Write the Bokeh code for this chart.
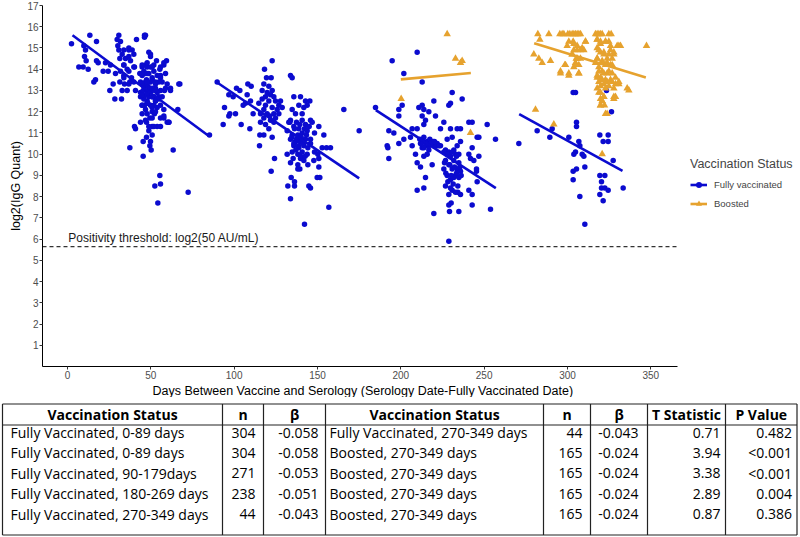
import math
from bokeh.plotting import figure
from bokeh.models import (ColumnDataSource, Legend, LegendItem, Range1d,
                          FixedTicker, Title)
from bokeh.layouts import column
from bokeh.embed import file_html
from bokeh.resources import INLINE
from bokeh.core.properties import value

# ---------------- data ----------------
# Fully vaccinated, 0-89 days: (days, log2 IgG)
fv1 = [(2.4,15.2),(13.4,15.6),(17.4,15.3),(9.8,15.1),(10.8,14.9),(10.2,14.6),(11.2,14.4),(6.8,14.1),(9.4,14.1),(12.4,14.0),
       (17.4,14.4),(18.4,14.3),(21.4,13.9),(22.8,14.3),(25.8,14.2),(24.4,13.9),(16.8,13.5),(15.8,13.4),(25.4,13.0),(28.4,12.6),
       (32.4,12.6),(27.4,13.3),(30.8,15.6),(29.8,15.4),(31.8,15.3),(30.2,15.1),(41.4,15.4),(46.2,15.6),(46.2,15.5),(48.8,14.8),
       (49.8,14.6),(36.8,14.9),(38.8,14.9),(30.8,14.9),(32.8,14.7),(34.8,14.5),(31.4,14.5),(33.8,14.2),(37.8,14.4),(40.2,14.1),
       (35.8,14.0),(31.8,13.9),(28.8,13.8),(33.8,13.7),(38.4,13.6),(37.4,13.4),(34.2,13.3),(31.4,13.4),(35.8,13.0),(32.8,13.0),
       (40.8,13.0),(43.8,12.9),(45.4,12.7),(47.8,12.5),(44.8,12.3),(49.8,12.3),(46.8,12.1),(50.8,12.0),(49.4,11.7),(47.4,11.5),
       (43.8,11.5),(40.2,11.3),(50.8,11.3),(53.8,11.3),(55.8,11.3),(55.8,11.7),(57.8,11.7),(59.8,11.5),(60.8,11.5),(46.8,14.2),
       (47.8,14.1),(45.8,13.9),(48.8,13.8),(44.8,13.7),(47.4,13.5),(49.8,13.4),(45.8,13.2),(48.2,13.0),(50.8,13.0),(52.8,13.1),
       (53.8,12.9),(51.8,12.7),(48.8,12.7),(45.8,12.6),(52.8,12.5),(54.8,12.6),(55.8,12.3),(53.8,12.2),(51.8,12.3),(43.8,13.4),
       (43.4,13.8),(51.8,14.2),(53.4,14.4),(55.4,14.0),(57.8,14.2),(59.4,14.4),(58.8,13.8),(55.8,13.7),(56.8,13.4),(59.8,13.3),
       (61.8,13.0),(58.2,13.0),(54.8,13.4),(67.4,13.3),(66.2,12.1),(57.8,12.1),(52.2,11.9),(48.8,11.3),(47.4,10.8),(49.8,10.6),
       (49.4,10.4),(50.8,10.9),(45.4,10.6),(37.4,10.3),(45.4,9.9),(50.2,10.2),(63.4,10.2),(55.4,9.0),(55.8,8.6),(52.4,8.5),
       (72.4,8.2),(54.2,7.7),(85.2,10.9),(46.8,13.4),(48.2,13.2),(45.4,13.0),(49.4,13.1),(47.4,12.8),(50.8,12.7),(48.2,12.4),
       (46.2,12.3),(52.8,12.0),(54.8,12.7),(49.8,14.1),(44.8,14.1),(51.8,13.9),(53.8,13.7),(50.8,13.5),(46.8,13.8),(48.8,12.9),
       (43.8,12.7),(55.8,13.0),(56.8,12.7),(52.8,13.3),
       (44.8,14.2),(44.8,13.8),(44.8,13.3),(44.8,12.8),(44.8,12.3),(44.8,11.9),(47.8,14.3),(47.8,13.8),(47.8,13.4),(47.8,12.9),
       (47.8,12.4),(47.8,11.9),(50.8,14.1),(50.8,13.6),(50.8,13.1),(50.8,12.7),(50.8,12.2),(50.8,11.7),(52.8,13.4),(52.8,13.0),
       (52.8,12.5),(33.8,14.9),(33.8,14.2),(33.8,13.6),(36.8,15.0),(36.8,14.6),(36.8,13.9),(36.8,13.3),(39.8,14.7),(39.8,14.1),
       (39.8,13.4),(57.8,14.3),(58.8,13.1),(61.8,13.1),(66.8,13.3),(57.8,11.8),(60.8,11.5),(51.8,11.3),(46.8,11.6),(48.8,11.1),
       (40.8,11.2),(46.8,15.6),(49.8,14.7),(55.8,14.1),(55.8,13.6)]

# Fully vaccinated, 90-179 days
fv2 = [(89.8,13.4),(122.8,14.4),(118.2,14.0),(119.4,13.6),(122.2,13.6),(133.8,13.7),(134.8,13.6),(108.2,13.3),(110.2,13.2),(101.4,13.1),
       (103.4,13.0),(96.8,12.8),(99.4,12.7),(107.8,12.8),(109.8,12.5),(106.8,12.4),(94.2,12.2),(97.4,11.9),(100.8,11.9),(96.8,11.8),
       (105.4,12.3),(111.4,11.9),(93.4,11.4),(104.2,11.4),(109.4,11.2),(115.4,10.9),(115.2,10.4),(117.8,13.3),(120.8,13.2),(122.8,13.0),
       (121.8,12.8),(118.8,12.7),(116.8,12.6),(120.8,12.5),(124.8,12.5),(127.8,12.5),(114.8,12.4),(118.8,12.3),(122.8,12.2),(125.8,12.1),
       (128.8,12.2),(119.8,11.9),(123.8,11.9),(126.8,11.9),(117.8,11.7),(121.8,11.6),(115.8,11.5),(118.8,11.4),(123.8,11.5),(120.8,11.2),
       (117.8,10.9),(122.8,10.8),(124.2,9.8),(122.2,9.2),(135.8,12.7),(139.8,12.7),(142.8,12.5),(145.4,12.5),(138.8,12.3),(141.8,12.2),
       (143.8,12.3),(140.8,11.9),(136.8,11.9),(134.8,12.1),(133.8,11.6),(137.4,11.5),(140.8,11.6),(145.8,11.6),(132.8,11.5),(135.8,11.3),
       (138.8,11.2),(142.8,11.4),(146.8,11.5),(150.8,11.3),(131.8,11.1),(134.8,10.9),(138.2,10.9),(140.8,11.0),(143.8,11.1),(133.8,10.7),
       (136.8,10.6),(139.8,10.6),(142.8,10.7),(145.8,10.7),(135.8,10.4),(138.8,10.3),(141.8,10.4),(145.8,10.5),(134.8,10.1),(138.2,10.0),
       (140.8,10.1),(143.8,10.0),(131.8,10.0),(133.8,9.6),(138.2,9.5),(139.4,9.3),(138.2,9.3),(139.8,9.8),(141.8,9.7),(144.2,9.5),
       (147.8,9.7),(150.8,9.8),(150.8,9.4),(148.2,10.1),(152.8,10.3),(155.4,10.3),(157.8,10.3),(148.2,11.0),(149.8,8.9),(151.4,8.9),
       (150.2,10.0),(153.8,10.9),(134.2,8.9),(136.2,8.7),(132.2,8.5),(136.2,8.5),(144.8,8.5),(145.8,8.4),(133.8,7.9),(156.8,7.5),
       (142.2,6.7),(165.8,12.1),(175.0,11.1),
       (133.4,11.5),(136.2,11.2),(139.4,11.4),(142.2,11.2),(145.0,11.3),(134.6,10.8),(137.4,10.7),(140.2,10.8),(143.4,10.9),
       (135.8,10.5),(138.6,10.4),(141.4,10.5),(144.2,10.3),(137.0,10.2),(139.8,9.9),(142.6,9.9),(135.4,9.8),(116.8,13.0),
       (119.8,12.9),(123.8,12.7),(126.8,12.3),(117.8,12.1),(121.4,11.8),(124.8,11.7),(115.8,11.9)]

# Fully vaccinated, 180-269 days
fv3 = [(194.8,14.4),(209.8,14.8),(201.8,13.8),(212.8,13.4),(184.8,12.2),(230.8,12.9),(236.8,12.6),(229.8,12.4),(228.8,12.3),(219.8,12.5),
       (212.8,12.3),(210.8,12.2),(198.8,12.1),(200.8,12.3),(198.8,11.8),(213.8,12.1),(216.8,12.0),(220.8,11.8),(212.8,11.8),(214.8,11.6),
       (213.8,11.4),(225.8,11.5),(223.8,11.2),(229.8,11.2),(233.8,11.2),(235.8,11.2),(240.8,11.5),(242.8,11.5),(251.8,11.4),(192.8,11.1),
       (195.8,11.0),(206.8,11.2),(209.8,11.2),(205.8,10.8),(201.8,10.7),(198.8,10.5),(191.8,10.4),(192.2,10.3),(192.8,9.8),(206.8,10.4),
       (213.8,10.8),(215.8,10.6),(217.8,10.5),(214.8,10.4),(219.8,10.4),(221.8,10.5),(212.8,10.3),(216.8,10.2),(208.8,10.0),(213.8,9.9),
       (215.8,10.0),(218.8,9.5),(209.8,9.6),(211.8,9.4),(214.8,8.9),(213.8,8.4),(209.8,8.3),(219.8,7.2),(227.8,10.7),(230.8,10.8),
       (226.8,10.2),(228.8,10.1),(231.8,10.2),(233.8,10.4),(235.8,10.6),(234.8,10.0),(229.8,9.9),(226.8,9.7),(231.8,9.7),(234.8,9.6),
       (228.8,9.5),(225.8,9.3),(230.8,9.3),(233.8,9.3),(235.8,9.2),(227.8,9.0),(232.8,9.0),(234.8,8.9),(229.8,8.8),(226.8,8.5),
       (230.8,8.3),(234.2,8.2),(235.8,8.1),(228.8,8.1),(230.2,7.7),(228.8,7.6),(229.2,7.3),(234.8,7.3),(228.8,5.9),(240.8,10.0),
       (242.8,10.3),(241.8,9.8),(243.8,9.7),(245.4,9.3),(245.4,9.2),(246.8,9.9),(245.8,8.7),(240.8,8.3),(242.8,8.1),(242.8,7.6),
       (253.8,7.4),(256.8,10.7),(245.8,10.8),(246.8,10.8),(217.4,10.7),(219.4,10.6),(221.4,10.4),(223.8,10.4),(216.8,10.4),(211.8,10.5),
       (227.8,10.0),(232.8,10.0),(231.8,8.9),
       (225.8,10.1),(228.2,10.0),(231.0,10.1),(233.4,9.9),(226.2,9.6),(229.4,9.5),(232.2,9.4),(235.4,9.4),(227.0,9.1),(230.2,9.0),
       (233.4,9.1),(236.2,9.0),(228.2,8.7),(231.4,8.6),(234.2,8.5),(229.8,8.4),(232.8,8.2),(213.4,10.6),(215.4,10.5),(217.8,10.5),
       (220.2,10.6),(222.8,10.4),(213.8,10.3),(211.4,10.7)]

# Fully vaccinated, 270-349 days
fv4 = [(270.8,10.5),(281.8,11.1),(289.4,10.8),(290.8,11.2),(300.8,10.8),(305.4,11.5),(305.4,11.3),(306.8,10.6),(307.4,10.4),(304.8,10.1),
       (303.8,10.0),(308.8,10.0),(309.8,9.9),(310.4,9.4),(305.4,9.3),(303.4,9.2),(303.4,8.8),(307.4,8.0),(310.4,6.7),(303.4,12.9),
       (304.8,12.9),(323.4,13.0),(326.4,12.0),(319.4,10.9),(324.4,10.9),(321.4,10.6),(324.4,10.6),(327.4,9.7),(319.4,9.0),(322.4,9.0),
       (320.4,8.7),(320.4,8.4),(322.4,8.4),(324.4,8.3),(319.4,8.1),(321.4,7.8),(333.4,8.4)]

# Boosted
boosted = [(282.2,15.65),(288.8,15.65),(295.4,15.65),(296.8,15.65),(297.8,15.65),(300.2,15.65),(301.4,15.65),(302.8,15.65),(303.8,15.65),
           (304.8,15.65),(305.8,15.65),(306.8,15.65),(307.8,15.65),(316.8,15.65),(317.8,15.65),(318.8,15.65),(319.8,15.65),(320.8,15.65),
           (324.8,15.65),(326.2,15.65),(283.4,15.4),(279.8,14.7),(282.8,14.5),(284.8,14.3),(289.8,14.4),(298.8,14.2),(295.8,13.9),
           (300.8,13.8),(306.8,13.8),(299.8,15.1),(303.4,15.3),(305.8,15.1),(303.8,14.9),(307.8,14.9),(309.8,14.9),(310.8,15.3),
           (302.8,14.7),(305.8,14.5),(307.8,14.5),(304.8,14.3),(306.8,14.2),(303.8,14.1),(317.8,15.4),(319.8,15.2),(322.8,15.3),
           (324.8,15.3),(325.8,14.9),(327.8,14.7),(330.8,15.1),(331.8,15.1),(347.4,15.1),(317.8,15.0),(319.8,14.8),(321.8,14.7),
           (323.8,14.5),(326.8,14.5),(317.8,14.5),(316.8,14.3),(320.8,14.3),(322.8,14.2),(325.8,14.2),(318.8,14.1),(320.8,13.9),
           (323.8,13.8),(326.8,13.8),(317.8,13.7),(319.8,13.6),(322.8,13.5),(325.8,13.5),(328.8,13.6),(318.8,13.4),(321.8,13.3),
           (324.8,13.2),(327.8,13.1),(330.8,13.3),(317.8,13.1),(319.8,12.9),(321.8,12.7),(319.8,12.6),(320.8,12.5),(327.8,12.6),
           (328.8,12.7),(336.8,13.0),(319.8,12.3),(322.2,12.3),(323.8,11.9),(280.8,12.1),(291.8,11.4),(320.8,10.0),
           (227.8,15.65),(232.8,14.5),(235.8,14.3),(236.8,14.4),(200.2,12.6),(241.8,11.0),
           (300.8,15.3),(303.8,15.2),(305.8,14.9),(308.8,15.0),(302.8,14.7),(305.2,14.5),(310.8,15.3),(298.4,14.2),(295.8,13.8),
           (300.8,13.7),(306.8,13.8),(304.8,14.2),(317.8,15.4),(319.8,15.3),(322.8,15.3),(325.8,15.1),(318.8,14.9),(321.8,14.8),
           (324.8,14.7),(327.8,14.8),(317.8,14.5),(320.8,14.4),(323.8,14.3),(326.8,14.2),(318.8,13.9),(321.8,13.8),(324.8,13.9),
           (317.8,13.6),(320.8,13.5),(323.8,13.4),(326.8,13.4),(319.8,13.2),(322.8,13.1),(318.8,12.9),(321.8,12.7),(320.8,12.5),
           (319.8,12.3),(322.8,11.9),(328.8,13.3),(330.8,13.4),(335.8,13.1),(327.8,12.7),(329.8,15.1)]

# Fitted regression segments
fit_status = ["Fully vaccinated", "Fully vaccinated", "Fully vaccinated", "Fully vaccinated", "Boosted", "Boosted"]
fit_x0 = [3, 90, 185, 271, 280, 200]
fit_x1 = [85, 175, 257, 333, 347, 242]
fit_y0 = [15.6, 13.36, 12.07, 11.88, 15.22, 13.52]
fit_y1 = [10.84, 8.86, 8.40, 9.21, 13.61, 13.82]

threshold = math.log2(50)
x_min, x_max = -15, 366          # x axis extent
y_min, y_max = 0, 17
x_ticks = [0, 50, 100, 150, 200, 250, 300, 350]
y_ticks = list(range(1, 18))

# Table
tbl_status_a = ["Fully Vaccinated, 0-89 days", "Fully Vaccinated, 0-89 days", "Fully Vaccinated, 90-179days",
                "Fully Vaccinated, 180-269 days", "Fully Vaccinated, 270-349 days"]
tbl_n_a = ["304", "304", "271", "238", "44"]
tbl_beta_a = ["-0.058", "-0.058", "-0.053", "-0.051", "-0.043"]
tbl_status_b = ["Fully Vaccinated, 270-349 days", "Boosted, 270-349 days", "Boosted, 270-349 days",
                "Boosted, 270-349 days", "Boosted, 270-349 days"]
tbl_n_b = ["44", "165", "165", "165", "165"]
tbl_beta_b = ["-0.043", "-0.024", "-0.024", "-0.024", "-0.024"]
tbl_t = ["0.71", "3.94", "3.38", "2.89", "0.87"]
tbl_p = ["0.482", "<0.001", "<0.001", "0.004", "0.386"]
tbl_headers = ["Vaccination Status", "n", "\u03b2", "Vaccination Status", "n", "\u03b2", "T Statistic", "P Value"]

# ---------------- styling ----------------
BLUE = "#0B0BCF"
ORANGE = "#E6A22E"
FONT = "Liberation Sans"
TFONT = "Open Sans"

W = 800
PH = 397
TH = 140
LEFT = 42
PX_PER_DAY = 635 / (x_max - x_min)       # axis spans 635 px in the reference
x_view_end = x_min + (W - LEFT) / PX_PER_DAY

p = figure(width=W, height=PH, x_range=Range1d(x_min, x_view_end), y_range=Range1d(y_min, y_max),
           output_backend="svg", toolbar_location=None,
           min_border_left=LEFT, min_border_right=0, min_border_top=5, min_border_bottom=14)
p.outline_line_color = None
p.xgrid.visible = False
p.ygrid.visible = False

for ax in (p.xaxis[0], p.yaxis[0]):
    ax.axis_line_color = "black"
    ax.axis_line_width = 1
    ax.major_tick_line_color = "#333333"
    ax.major_tick_out = 3
    ax.major_tick_in = 0
    ax.minor_tick_line_color = None
    ax.major_label_text_color = "#4D4D4D"
    ax.major_label_text_font = FONT
    ax.major_label_text_font_size = "10px"
    ax.major_label_standoff = 1
    ax.axis_label_text_font = FONT
    ax.axis_label_text_font_size = "12.5px"
    ax.axis_label_text_font_style = "normal"
    ax.axis_label_text_color = "black"
    ax.axis_label_standoff = 1

p.xaxis.bounds = (x_min, x_max)
p.xaxis.ticker = FixedTicker(ticks=x_ticks)
p.yaxis.ticker = FixedTicker(ticks=y_ticks)
p.yaxis.axis_label = "log2(IgG Quant)"
p.add_layout(Title(text="Days Between Vaccine and Serology (Serology Date-Fully Vaccinated Date)",
                   align="left", offset=110, standoff=0,
                   text_font=FONT, text_font_size="12.5px", text_font_style="normal",
                   text_color="black"), "below")

# threshold
p.segment(x0=[x_min], x1=[x_max], y0=[threshold], y1=[threshold], line_color="#333333",
          line_dash="4 3", line_width=1.3)
p.text(x=[0.5], y=[threshold + 0.42], text=["Positivity threshold: log2(50 AU/mL)"],
       text_font=value(FONT), text_font_size="12px", text_color="#1a1a1a",
       text_align="left", text_baseline="middle")

fv_all = fv1 + fv2 + fv3 + fv4
fv_src = ColumnDataSource(dict(x=[d for d, v in fv_all], y=[v for d, v in fv_all]))
b_src = ColumnDataSource(dict(x=[d for d, v in boosted], y=[v for d, v in boosted]))

def fit_source(keep):
    idx = [i for i, s in enumerate(fit_status) if keep(s)]
    return ColumnDataSource(dict(x0=[fit_x0[i] for i in idx], x1=[fit_x1[i] for i in idx],
                                 y0=[fit_y0[i] for i in idx], y1=[fit_y1[i] for i in idx]))

fv_pts = p.scatter("x", "y", source=fv_src, marker="circle", size=5.5, color=BLUE, line_width=0)
b_pts = p.scatter("x", "y", source=b_src, marker="triangle", size=7.5, color=ORANGE, line_width=0)
fv_ln = p.segment("x0", "y0", "x1", "y1", source=fit_source(lambda s: s != "Boosted"),
                  line_color=BLUE, line_width=2.6)
b_ln = p.segment("x0", "y0", "x1", "y1", source=fit_source(lambda s: s == "Boosted"),
                 line_color=ORANGE, line_width=2.6)

legend = Legend(items=[LegendItem(label="Fully vaccinated", renderers=[fv_ln, fv_pts]),
                       LegendItem(label="Boosted", renderers=[b_ln, b_pts])],
                location=(648, 155), title="Vaccination Status",
                title_text_font=FONT, title_text_font_size="12.5px", title_text_font_style="normal",
                label_text_font=FONT, label_text_font_size="9.5px",
                glyph_width=17, glyph_height=15, spacing=4, padding=3, margin=0,
                title_standoff=6, label_standoff=7,
                border_line_color=None, background_fill_alpha=0)
p.add_layout(legend)

# ---------------- table ----------------
t = figure(width=W, height=TH, x_range=Range1d(0, W), y_range=Range1d(TH, 0),
           output_backend="svg", toolbar_location=None, min_border=0,
           x_axis_location=None, y_axis_location=None)
t.outline_line_color = None
t.xgrid.visible = False
t.ygrid.visible = False

for fig in (p, t):
    try:
        fig.frame_align = False
    except Exception:
        pass

edges = [2, 222, 263, 325, 543, 590, 647, 725, 796.5]
top, head_bot, row_h = 6.5, 27.5, 22
bottom = head_bot + row_h * len(tbl_n_a)

seg_x0 = [edges[0], edges[0], edges[0]] + edges
seg_x1 = [edges[-1], edges[-1], edges[-1]] + edges
seg_y0 = [top, head_bot, bottom] + [top] * len(edges)
seg_y1 = [top, head_bot, bottom] + [bottom] * len(edges)
t.segment(seg_x0, seg_y0, seg_x1, seg_y1, line_color="#222222", line_width=1.2)

hx = [(edges[i] + edges[i + 1]) / 2 for i in range(8)]
t.text(x=hx, y=[(top + head_bot) / 2] * 8, text=tbl_headers, text_font=value(TFONT),
       text_font_size="14px", text_font_style="bold", text_align="center",
       text_baseline="middle", text_color="black")

cols = [tbl_status_a, tbl_n_a, tbl_beta_a, tbl_status_b, tbl_n_b, tbl_beta_b, tbl_t, tbl_p]
aligns = ["left", "right", "right", "left", "right", "right", "right", "right"]
pads = [8, 8, 7, 4, 8, 9, 5, 5]
cx, cy, ctxt, calign = [], [], [], []
for ci, (col, al, pd) in enumerate(zip(cols, aligns, pads)):
    for ri, txt in enumerate(col):
        cx.append(edges[ci] + pd if al == "left" else edges[ci + 1] - pd)
        cy.append(head_bot + 7.5 + 20.4 * ri)
        ctxt.append(txt)
        calign.append(al)
t.text(x="x", y="y", text="text", text_align="align",
       source=ColumnDataSource(dict(x=cx, y=cy, text=ctxt, align=calign)),
       text_font=value(TFONT), text_font_size="14px", text_baseline="middle", text_color="black")

layout = column(p, t, spacing=0)
open("out.html", "w").write(file_html(layout, INLINE))
